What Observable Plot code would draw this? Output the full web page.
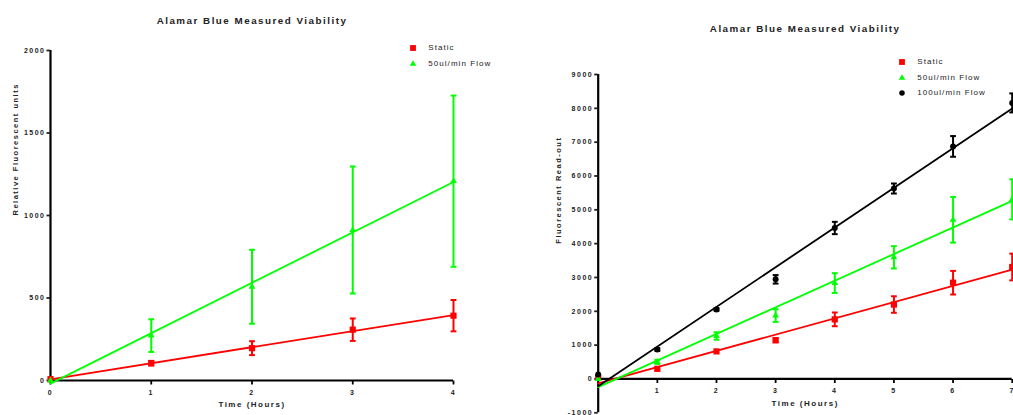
<!DOCTYPE html>
<html>
<head>
<meta charset="utf-8">
<script src="https://cdn.jsdelivr.net/npm/d3@7"></script>
<script src="https://cdn.jsdelivr.net/npm/@observablehq/plot@0.6"></script>
<style>
  html, body { margin: 0; padding: 0; background: #fff; }
  #page { position: relative; width: 1013px; height: 415px; overflow: hidden; background: #fff; }
  .panel { position: absolute; top: 0; }
  .panel svg { overflow: visible; max-width: none !important; }
  .panel svg text { letter-spacing: 1.5px; }
  .panel svg g[aria-label="chart title"] text { letter-spacing: 1.2px; }
  .legend-label {
    position: absolute; transform: translateY(-52%);
    font: 8px "Liberation Sans", Arial, sans-serif; letter-spacing: 1.05px;
    color: #222; line-height: 1; white-space: nowrap;
  }
  .legend-mark { position: absolute; }
</style>
</head>
<body>
<div id="page"></div>
<script>
// Alamar Blue viability readings, mean and error per time point.
const hoursA = [0, 1, 2, 3, 4];
const staticA = [8, 105, 196, 308, 393];
const staticErrA = [0, 14, 42, 68, 95];
const flow50A = [0, 272, 568, 912, 1208];
const flow50ErrA = [0, 99, 224, 385, 519];

const hoursB = [0, 1, 2, 3, 4, 5, 6, 7];
const staticB = [40, 300, 815, 1145, 1762, 2200, 2846, 3310];
const staticErrB = [0, 0, 0, 60, 203, 244, 349, 395];
const flow50B = [0, 505, 1270, 1874, 2835, 3596, 4705, 5310];
const flow50ErrB = [0, 60, 110, 188, 292, 330, 675, 592];
const flow100B = [130, 870, 2055, 2945, 4463, 5630, 6874, 8160];
const flow100ErrB = [0, 40, 40, 125, 182, 148, 306, 281];

const seriesNames = ["Static", "50ul/min Flow", "100ul/min Flow"];
const seriesColors = ["#ff0000", "#00ff00", "#000000"];

const chartTitle = "Alamar Blue Measured Viability";
const xTitle = "Time (Hours)";
const yTitleA = "Relative Fluorescent units";
const yTitleB = "Fluorescent Read-out";

const xTicksA = [0, 1, 2, 3, 4];
const xLabelsA = [0, 1, 2, 3, 4];
const yTicksA = [0, 500, 1000, 1500, 2000];
const xTicksB = [1, 2, 3, 4, 5, 6, 7];
const xLabelsB = [1, 2, 3, 4, 5, 6, 7];
const yTicksB = [-1000, 0, 1000, 2000, 3000, 4000, 5000, 6000, 7000, 8000, 9000];

// marker style per series
const plotSymbols = ["square", "triangle", "circle"];
const plotRadii = [3.5, 2.5, 3];
const legendSymbols = [d3.symbolSquare, d3.symbolTriangle, d3.symbolCircle];
const legendSizes = [34, 18, 24];

const FONT = '"Liberation Sans", Arial, sans-serif';

// horizontal cap for error bars
const capSymbol = {
  draw(context, size) {
    const r = Math.sqrt(size / Math.PI);
    context.moveTo(-r, 0);
    context.lineTo(r, 0);
  }
};
// downward axis tick
const tickDownSymbol = {
  draw(context, size) {
    const r = Math.sqrt(size / Math.PI);
    context.moveTo(0, 0);
    context.lineTo(0, r);
  }
};

function table(hours, values, errors) {
  return hours.map((t, i) => ({
    t, v: values[i], e: errors[i], lo: values[i] - errors[i], hi: values[i] + errors[i]
  }));
}

function viabilityChart(cfg) {
  const marks = [
    Plot.ruleX([0], {stroke: "#000", strokeWidth: 2.2}),
    Plot.ruleY([0], {stroke: "#000", strokeWidth: 2.2}),
    Plot.axisY({ticks: cfg.yTicks, tickFormat: d => String(d), tickSize: 3.5, tickPadding: 1.5,
      strokeWidth: 1.8, fontWeight: "bold", fontSize: 7, label: null}),
    Plot.dot(cfg.xTicks, {x: d => d, y: 0, symbol: tickDownSymbol, r: 4,
      stroke: "#000", strokeWidth: 1.8, fill: "none"}),
    Plot.text(cfg.xLabels, {x: d => d, y: 0, dy: 12, text: d => String(d),
      fontWeight: "bold", fontSize: 7}),
    Plot.text([chartTitle], {frameAnchor: "top", dy: cfg.titleDy, fontWeight: "bold",
      fontSize: 9.8, ariaLabel: "chart title"}),
    Plot.text([xTitle], {frameAnchor: "bottom", dy: cfg.xTitleDy, fontWeight: "bold", fontSize: 8}),
    Plot.text([cfg.yTitle], {frameAnchor: "left", dx: cfg.yTitleDx, rotate: -90,
      fontWeight: "bold", fontSize: 7.5})
  ];
  cfg.series.forEach((rows, i) => {
    const color = seriesColors[i];
    const withErr = rows.filter(d => d.e > 0);
    marks.push(
      Plot.ruleX(withErr, {x: "t", y1: "lo", y2: "hi", stroke: color, strokeWidth: 2}),
      Plot.dot(withErr, {x: "t", y: "hi", symbol: capSymbol, r: 2.9, stroke: color, strokeWidth: 2, fill: "none"}),
      Plot.dot(withErr, {x: "t", y: "lo", symbol: capSymbol, r: 2.9, stroke: color, strokeWidth: 2, fill: "none"}),
      Plot.linearRegressionY(rows, {x: "t", y: "v", stroke: color, strokeWidth: 1.8, ci: 0}),
      Plot.dot(rows, {x: "t", y: "v", symbol: plotSymbols[i], r: plotRadii[i], fill: color})
    );
  });
  return Plot.plot({
    width: cfg.width,
    height: cfg.height,
    marginTop: cfg.margin[0],
    marginRight: cfg.margin[1],
    marginBottom: cfg.margin[2],
    marginLeft: cfg.margin[3],
    x: {domain: cfg.xDomain, axis: null},
    y: {domain: cfg.yDomain},
    style: {fontFamily: FONT, fontSize: "7px", color: "#222", background: "transparent"},
    marks
  });
}

function addLegend(page, count, left, top, step, textGap) {
  for (let i = 0; i < count; i++) {
    const cy = top + i * step;
    const mark = d3.select(page).append("svg")
      .attr("class", "legend-mark")
      .attr("width", 10).attr("height", 10)
      .style("left", (left - 5) + "px").style("top", (cy - 5) + "px");
    mark.append("path")
      .attr("transform", "translate(5,5)")
      .attr("d", d3.symbol(legendSymbols[i], legendSizes[i])())
      .attr("fill", seriesColors[i]);
    d3.select(page).append("div")
      .attr("class", "legend-label")
      .style("left", (left + textGap) + "px").style("top", cy + "px")
      .text(seriesNames[i]);
  }
}

const page = document.getElementById("page");

function addPanel(x, width, svg) {
  const panel = document.createElement("div");
  panel.className = "panel";
  panel.style.left = x + "px";
  panel.style.width = width + "px";
  panel.appendChild(svg);
  page.appendChild(panel);
}

addPanel(0, 500, viabilityChart({
  width: 500, height: 415, margin: [50, 47, 35, 50],
  xDomain: [0, 4], yDomain: [0, 2000],
  xTicks: xTicksA, xLabels: xLabelsA, yTicks: yTicksA,
  yTitle: yTitleA, titleDy: -33, xTitleDy: 26, yTitleDx: -35,
  series: [table(hoursA, staticA, staticErrA), table(hoursA, flow50A, flow50ErrA)]
}));

addPanel(500, 520, viabilityChart({
  width: 520, height: 415, margin: [74, 8.3, 2.7, 97.7],
  xDomain: [0, 7], yDomain: [-1000, 9000],
  xTicks: xTicksB, xLabels: xLabelsB, yTicks: yTicksB,
  yTitle: yTitleB, titleDy: -49, xTitleDy: -7.3, yTitleDx: -39.7,
  series: [table(hoursB, staticB, staticErrB), table(hoursB, flow50B, flow50ErrB), table(hoursB, flow100B, flow100ErrB)]
}));

addLegend(page, 2, 413.3, 48.3, 15.4, 15);
addLegend(page, 3, 902.3, 62, 15.5, 15);
</script>
</body>
</html>
